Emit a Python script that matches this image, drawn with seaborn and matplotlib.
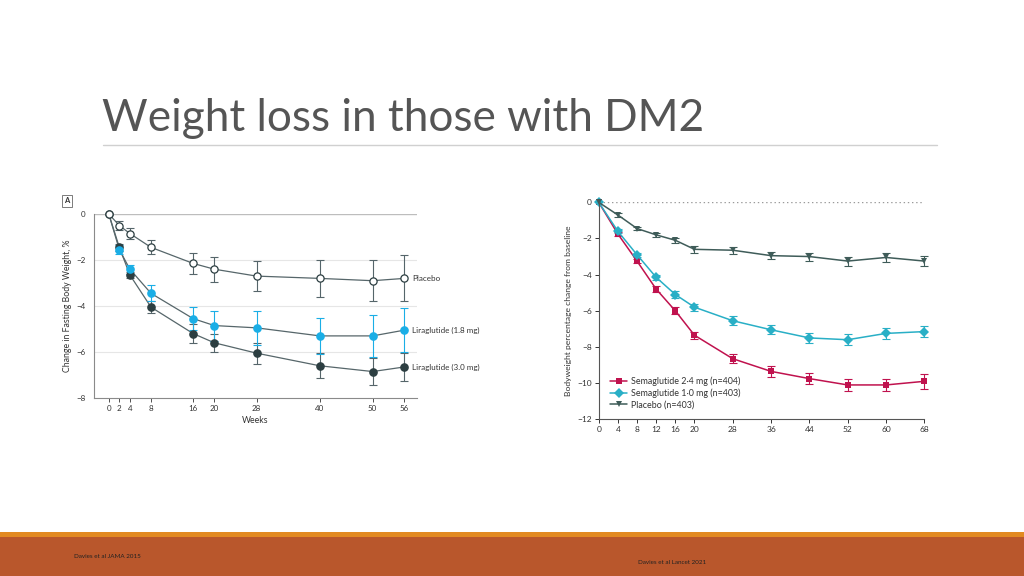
import numpy as np
import pandas as pd
import seaborn as sns
import matplotlib.pyplot as plt
from matplotlib.patches import Rectangle
from matplotlib.lines import Line2D

# Left panel data (Davies et al JAMA 2015)
weeks_l = [0, 2, 4, 8, 16, 20, 28, 40, 50, 56]
placebo_l = [0, -0.5, -0.85, -1.45, -2.15, -2.4, -2.7, -2.8, -2.9, -2.8]
placebo_l_err = [0, 0.2, 0.25, 0.3, 0.45, 0.55, 0.65, 0.8, 0.9, 1.0]
lira18 = [0, -1.55, -2.4, -3.45, -4.55, -4.85, -4.95, -5.3, -5.3, -5.05]
lira18_err = [0, 0.2, 0.2, 0.35, 0.5, 0.65, 0.75, 0.8, 0.9, 0.95]
lira30 = [0, -1.45, -2.65, -4.05, -5.2, -5.6, -6.05, -6.6, -6.85, -6.65]
lira30_err = [0, 0.15, 0.15, 0.25, 0.4, 0.4, 0.45, 0.55, 0.6, 0.6]

# Right panel data (Davies et al Lancet 2021)
weeks_r = [0, 4, 8, 12, 16, 20, 28, 36, 44, 52, 60, 68]
sema24 = [0, -1.75, -3.25, -4.8, -6.0, -7.35, -8.65, -9.35, -9.75, -10.1, -10.1, -9.9]
sema24_err = [0, 0.1, 0.12, 0.15, 0.2, 0.2, 0.25, 0.3, 0.3, 0.35, 0.35, 0.4]
sema10 = [0, -1.6, -2.9, -4.15, -5.1, -5.8, -6.55, -7.05, -7.5, -7.6, -7.25, -7.15]
sema10_err = [0, 0.1, 0.12, 0.15, 0.18, 0.2, 0.25, 0.25, 0.28, 0.3, 0.3, 0.3]
placebo_r = [0, -0.7, -1.45, -1.8, -2.1, -2.6, -2.65, -2.95, -3.0, -3.25, -3.05, -3.25]
placebo_r_err = [0, 0.1, 0.1, 0.12, 0.15, 0.18, 0.2, 0.2, 0.22, 0.25, 0.25, 0.28]

sns.set_theme(style="white")
plt.rcParams["font.family"] = ["Lato", "DejaVu Sans"]

W, H = 1024, 576
fig = plt.figure(figsize=(W / 100, H / 100), dpi=100)


def px_axes(x0, y0, x1, y1):
    # axes from pixel box (top-left origin)
    return fig.add_axes([x0 / W, 1 - y1 / H, (x1 - x0) / W, (y1 - y0) / H])


def errbars(ax, x, y, e, c):
    cont = ax.errorbar(x, y, yerr=e, fmt="none", ecolor=c, elinewidth=0.8,
                       capsize=3, capthick=0.8)
    for art in cont.get_children():
        art.set_clip_on(False)


# slide title and rule
fig.text(102 / W, 1 - 131 / H, "Weight loss in those with DM2", fontsize=31.8,
         color="#555555", fontweight="normal", va="baseline")
fig.add_artist(Line2D([103 / W, 937 / W], [1 - 145 / H, 1 - 145 / H],
                      color="#d0d0d0", lw=1))

# footer band
fig.add_artist(Rectangle((0, 0), 1, (576 - 537) / H, transform=fig.transFigure,
                         color="#b9572c", lw=0))
fig.add_artist(Rectangle((0, (576 - 537) / H), 1, 5 / H, transform=fig.transFigure,
                         color="#e28a22", lw=0))
fig.text(74 / W, 1 - 556 / H, "Davies et al JAMA 2015", fontsize=4.5, color="#222222",
         va="center")
fig.text(638 / W, 1 - 562 / H, "Davies et al Lancet 2021", fontsize=4.5, color="#222222",
         va="center")

# ---------- left panel ----------
ax1 = px_axes(94, 214, 417, 398)
gray = "#56666a"
dark = "#2c3e41"
ebar = "#55656a"
cyan = "#1aaee6"
df_l = pd.DataFrame({"week": weeks_l * 3,
                     "value": placebo_l + lira18 + lira30,
                     "group": ["Placebo"] * 10 + ["Liraglutide (1.8 mg)"] * 10
                     + ["Liraglutide (3.0 mg)"] * 10})
sns.lineplot(data=df_l, x="week", y="value", units="group", estimator=None,
             color=gray, lw=0.9, ax=ax1, legend=False)
for y, e, c in [(placebo_l, placebo_l_err, ebar), (lira30, lira30_err, ebar),
                (lira18, lira18_err, cyan)]:
    errbars(ax1, weeks_l[1:], y[1:], e[1:], c)
ax1.plot(weeks_l, placebo_l, "o", mfc="white", mec=dark, mew=0.9, ms=5.2, clip_on=False)
ax1.plot(weeks_l[1:], lira30[1:], "o", color=dark, ms=5.2, clip_on=False)
ax1.plot(weeks_l[1:], lira18[1:], "o", color=cyan, ms=5.2, clip_on=False)
ax1.plot([0], [0], "o", mfc="white", mec=dark, mew=0.9, ms=5.2, clip_on=False, zorder=5)
ax1.set_xlim(-2.8, 58.4)
ax1.set_ylim(-8, 0)
ax1.set_xticks(weeks_l)
ax1.set_yticks([0, -2, -4, -6, -8])
for v in [-2, -4, -6]:
    ax1.axhline(v, color="#e6e6e6", lw=0.8, zorder=0)
ax1.axhline(0, color="#bdbdbd", lw=1.0, zorder=0)
sns.despine(ax=ax1, top=True, right=True)
for s in ["left", "bottom"]:
    ax1.spines[s].set_color("#8a8a8a")
    ax1.spines[s].set_linewidth(0.8)
ax1.tick_params(axis="both", labelsize=5.8, colors="#333333", length=3, width=0.6,
                direction="out", bottom=True, left=True, pad=2)
ax1.tick_params(axis="y", length=0, pad=6)
ax1.set_xlabel("Weeks", fontsize=6.3, color="#333333", labelpad=3)
ax1.set_ylabel("Change in Fasting Body Weight, %", fontsize=6.3, color="#333333",
               labelpad=3)
for txt, yv in [("Placebo", placebo_l[-1]), ("Liraglutide (1.8 mg)", lira18[-1]),
                ("Liraglutide (3.0 mg)", lira30[-1])]:
    ax1.text(57.5, yv, txt, fontsize=5.8, color="#333333", va="center")
fig.text(64 / W, 1 - 201 / H, "A", fontsize=5.5, fontweight="bold", color="#333333",
         va="center", bbox=dict(boxstyle="square,pad=0.3", fc="white", ec="#666666", lw=0.6))

# ---------- right panel ----------
ax2 = px_axes(598.7, 202.3, 924.3, 419.3)
crimson = "#c0124e"
teal = "#29afc6"
pgray = "#3f5c59"
df_r = pd.DataFrame({"week": weeks_r * 3,
                     "value": sema24 + sema10 + placebo_r,
                     "group": ["Semaglutide 2·4 mg (n=404)"] * 12
                     + ["Semaglutide 1·0 mg (n=403)"] * 12 + ["Placebo (n=403)"] * 12})
palette = {"Semaglutide 2·4 mg (n=404)": crimson, "Semaglutide 1·0 mg (n=403)": teal,
           "Placebo (n=403)": pgray}
markers = {"Semaglutide 2·4 mg (n=404)": "s", "Semaglutide 1·0 mg (n=403)": "D",
           "Placebo (n=403)": "v"}
ax2.axhline(0, color="#9a9a9a", lw=1.0, ls=(0, (1, 2)), zorder=0)
for y, e, c in [(placebo_r, placebo_r_err, pgray), (sema10, sema10_err, teal),
                (sema24, sema24_err, crimson)]:
    errbars(ax2, weeks_r[1:], y[1:], e[1:], c)
sns.lineplot(data=df_r, x="week", y="value", hue="group", style="group",
             palette=palette, markers=markers, dashes=False, lw=1.1, markersize=4.6,
             markeredgewidth=0, ax=ax2, clip_on=False,
             hue_order=list(palette), style_order=list(palette))
ax2.set_xlim(0, 68)
ax2.set_ylim(-12, 0)
ax2.set_xticks(weeks_r)
ax2.set_yticks([0, -2, -4, -6, -8, -10, -12])
sns.despine(ax=ax2, top=True, right=True)
for s in ["left", "bottom"]:
    ax2.spines[s].set_color("#555555")
    ax2.spines[s].set_linewidth(0.8)
ax2.tick_params(axis="both", labelsize=6, colors="#333333", length=3, width=0.7,
                direction="out", bottom=True, left=True, pad=2)
ax2.set_xlabel("")
ax2.set_ylabel("Bodyweight percentage change from baseline", fontsize=6.1,
               color="#333333", labelpad=4)
leg = ax2.legend(loc="lower left", bbox_to_anchor=(0.025, 0.03), frameon=False,
                 fontsize=6.4, handlelength=1.9, labelspacing=0.25, borderaxespad=0,
                 handletextpad=0.4)
for t in leg.get_texts():
    t.set_color("#333333")

fig.savefig("out.png", dpi=100)
